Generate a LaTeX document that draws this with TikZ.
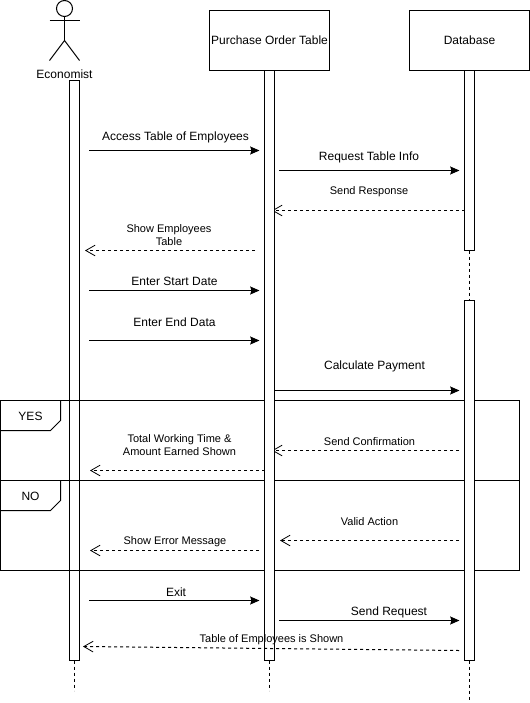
\documentclass[tikz,border=0pt]{standalone}
\usepackage{fontspec}
\setmainfont{Liberation Sans}
\usetikzlibrary{arrows.meta}
\tikzset{
  seq/.style={x=0.75pt,y=-0.75pt,line width=0.75pt},
  headbox/.style={draw,fill=white,minimum width=90pt,minimum height=45pt,inner sep=0pt,outer sep=0pt,font=\fontsize{9}{10}\selectfont},
  bar/.style={draw,fill=white,minimum width=7.5pt,inner sep=0pt,outer sep=0pt},
  life/.style={dash pattern=on 2.25pt off 2.25pt},
  callmsg/.style={-{Stealth[length=7pt,width=6pt,inset=1pt]}},
  backmsg/.style={dash pattern=on 2.25pt off 2.25pt,-{Straight Barb[length=7pt,width=8pt,line width=0.6pt]}},
  biglbl/.style={font=\fontsize{9}{10}\selectfont,align=center,inner sep=0pt,yshift=-0.6pt},
  smalllbl/.style={font=\fontsize{8.25}{9.75}\selectfont,align=center,inner sep=0pt,yshift=-0.6pt}
}
\begin{document}
\begin{tikzpicture}[seq]
  \useasboundingbox (0,0) rectangle (530,703);

  \node[draw,circle,minimum size=12pt,inner sep=0pt,outer sep=0pt] (head) at (64.5,8.5) {};
  \coordinate (hip) at (64.5,40.5);
  \coordinate (armL) at (49.5,20.5);
  \coordinate (armR) at (79.5,20.5);
  \coordinate (legL) at (49.5,60.5);
  \coordinate (legR) at (79.5,60.5);
  \draw (head.south) -- (hip);
  \draw (armL) -- (armR);
  \draw (legL) -- (hip) -- (legR);
  \node[biglbl] (econ) at (64.5,73.5) {Economist};

  \node[bar,minimum height=435pt] (econbar) at (74.5,370.5) {};

  \coordinate (f1) at (0.5,400.5);
  \coordinate (f2) at (519.5,570.5);
  \coordinate (fL) at (0.5,480.5);
  \coordinate (fR) at (519.5,480.5);
  \draw (f1) rectangle (f2);
  \draw (fL) -- (fR);

  \draw (60.5,400.5) -- (60.5,420.5) -- (50.5,430.5) -- (0.5,430.5);
  \draw (60.5,480.5) -- (60.5,500.5) -- (50.5,510.5) -- (0.5,510.5);
  \node[biglbl] (yes) at (30.5,415.5) {YES};
  \node[biglbl] (no) at (30.5,495.5) {NO};

  % these two run in under the bar
  \foreach \i/\xa/\xb/\y in {1/464.5/272/210.5,3/459/272/450.5}
  {
    \coordinate (ra\i) at (\xa,\y);
    \coordinate (rb\i) at (\xb,\y);
    \draw[backmsg] (ra\i) -- (rb\i);
  };

  \node[headbox] (pot) at (269.5,40.5) {\raisebox{-0.6pt}{Purchase Order Table}};
  \node[headbox] (db) at (469.5,40.5) {\raisebox{-0.6pt}{Database}};
  \node[bar,minimum height=442.5pt] (potbar) at (269.5,365.5) {};
  \node[bar,minimum height=135pt] (dbbar1) at (469.5,160.5) {};
  \node[bar,minimum height=270pt] (dbbar2) at (469.5,480.5) {};

  \coordinate (endE) at (74.5,690.5);
  \coordinate (endP) at (269.5,690.5);
  \coordinate (endD) at (469.5,700.5);
  \draw[life] (econbar.south) -- (endE);
  \draw[life] (potbar.south) -- (endP);
  \draw[life] (dbbar2.south) -- (endD);
  \draw[life] (dbbar1.south) -- (dbbar2.north);

  % solid calls
  \foreach \i/\xa/\xb/\y in {1/89/259.5/150.5,2/279/459.5/170.5,3/89/259.5/290.5,4/89/259.5/340.5,5/274.5/459.5/390.5,6/89/259.5/600.5,7/279/459.5/620.5}
  {
    \coordinate (ca\i) at (\xa,\y);
    \coordinate (cb\i) at (\xb,\y);
    \draw[callmsg] (ca\i) -- (cb\i);
  };

  % dashed returns
  \foreach \i/\xa/\xb/\y in {2/255/85/250.5,4/264.5/90/470.5,5/459/280/540.5,6/259/90/550.5}
  {
    \coordinate (ra\i) at (\xa,\y);
    \coordinate (rb\i) at (\xb,\y);
    \draw[backmsg] (ra\i) -- (rb\i);
  };
  \coordinate (ra7) at (459,650.5);
  \coordinate (rb7) at (83,646.5);
  \draw[backmsg] (ra7) -- (rb7);

  \node[biglbl] (t1) at (175.5,137) {Access Table of Employees};
  \node[biglbl] (t2) at (369,157) {Request Table Info};
  \node[biglbl] (t3) at (174.5,281) {Enter Start Date};
  \node[biglbl] (t4) at (174.5,321) {Enter End Data};
  \node[biglbl] (t5) at (374.5,366) {Calculate Payment};
  \node[biglbl] (t6) at (176,591) {Exit};
  \node[biglbl] (t7) at (389,612) {Send Request};

  \node[smalllbl] (s1) at (369,191) {Send Response};
  \node[smalllbl] (s2) at (169,234.5) {Show Employees\\Table};
  \node[smalllbl] (s3) at (369.5,441) {Send Confirmation};
  \node[smalllbl] (s4) at (179.5,444.5) {Total Working Time \&\\Amount Earned Shown};
  \node[smalllbl] (s5) at (369.5,521) {Valid Action};
  \node[smalllbl] (s6) at (175,541) {Show Error Message};
  \node[smalllbl] (s7) at (271.5,639) {Table of Employees is Shown};
\end{tikzpicture}
\end{document}
